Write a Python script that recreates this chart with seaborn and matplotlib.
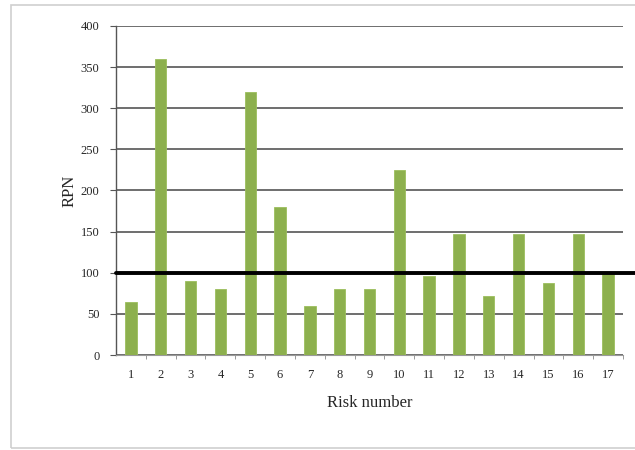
import matplotlib
matplotlib.use("Agg")
import matplotlib.pyplot as plt
from matplotlib.patches import Rectangle
import seaborn as sns
import pandas as pd

risk_numbers = [str(i) for i in range(1, 18)]
rpn_values = [65, 360, 90, 80, 320, 180, 60, 80, 80, 225, 96, 147, 72, 147, 87, 147, 98]
threshold = 100
y_ticks = [0, 50, 100, 150, 200, 250, 300, 350, 400]

sns.set_theme(style="white")
plt.rcParams["font.family"] = ["Liberation Serif", "DejaVu Serif"]

df = pd.DataFrame({"Risk number": risk_numbers, "RPN": rpn_values})

fig = plt.figure(figsize=(6.35, 4.5), dpi=100)
fig.patch.set_facecolor("white")

# light frame around the whole chart area
fig.patches.append(Rectangle((11 / 635, 2 / 450), 1.2, 443 / 450, transform=fig.transFigure,
                             fill=False, edgecolor="#cfcfcf", linewidth=1.2))

ax = fig.add_axes([116 / 635, 1 - 355 / 450, 507 / 635, 329 / 450])

sns.barplot(data=df, x="Risk number", y="RPN", color="#8db04e", width=0.38,
            saturation=1, edgecolor="#9cbf5c", linewidth=0.6, ax=ax, zorder=3)

ax.set_ylim(0, 400)
ax.set_xlim(-0.5, len(risk_numbers) - 0.5)
ax.set_yticks(y_ticks)
ax.yaxis.grid(True, color="#6e6e6e", linewidth=1.4, zorder=0)
ax.set_axisbelow(True)

# threshold line running past the plot edge
ax.axhline(threshold, xmin=0, xmax=(635 - 116) / 507, color="black", linewidth=2.8,
           clip_on=False, zorder=4)

for side in ["top", "right"]:
    ax.spines[side].set_visible(False)
ax.spines["left"].set_color("#555555")
ax.spines["left"].set_linewidth(1.0)
ax.spines["bottom"].set_color("#9a9a9a")
ax.spines["bottom"].set_linewidth(0.8)

ax.tick_params(axis="y", which="both", direction="out", length=4, width=0.8,
               color="#555555", labelsize=9, pad=8, left=True)
ax.tick_params(axis="x", which="major", length=0, labelsize=9, pad=10)

# category boundary ticks under the axis
ax.set_xticks([i + 0.5 for i in range(len(risk_numbers))], minor=True)
ax.tick_params(axis="x", which="minor", direction="out", length=3, width=0.7,
               color="#999999", bottom=True)

ax.set_xlabel("Risk number", fontsize=12, labelpad=10)
ax.set_ylabel("RPN", fontsize=12, labelpad=2)

fig.savefig("out.png", dpi=100, facecolor="white")
